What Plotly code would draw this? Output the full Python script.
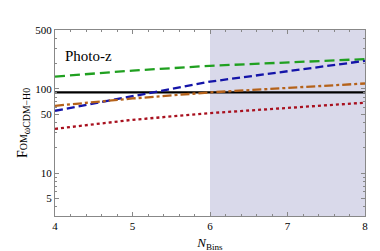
import plotly.graph_objects as go

n_bins = [4, 5, 6, 7, 8]
fom_green = [140, 165, 188, 208, 226]
fom_blue = [55, 82, 122, 162, 215]
fom_orange = [63, 77, 91, 103, 116]
fom_red = [33.6, 43, 51.6, 59, 68.6]
fom_black = [91, 91, 91, 91, 91]
shade_range = [6, 8]

y_ticks = [5, 10, 50, 100, 500]
y_minor = [4, 6, 7, 8, 9, 20, 30, 40, 60, 70, 80, 90, 200, 300, 400]
x_ticks = [4, 5, 6, 7, 8]
x_minor = [4 + i * 0.2 for i in range(21) if i % 5 != 0]

fig = go.Figure()

fig.add_shape(type="rect", xref="x", yref="paper", x0=shade_range[0], x1=shade_range[1],
              y0=0, y1=1, fillcolor="#d9d9ea", line_width=0, layer="below")

fig.add_trace(go.Scatter(x=n_bins, y=fom_black, mode="lines",
                         line=dict(color="black", width=2.3)))
fig.add_trace(go.Scatter(x=n_bins, y=fom_green, mode="lines",
                         line=dict(color="#20a020", width=2.3, dash="10px,5px")))
fig.add_trace(go.Scatter(x=n_bins, y=fom_blue, mode="lines",
                         line=dict(color="#1414a8", width=2.3, dash="8px,4px")))
fig.add_trace(go.Scatter(x=n_bins, y=fom_orange, mode="lines",
                         line=dict(color="#b5621a", width=2.3, dash="dashdot")))
fig.add_trace(go.Scatter(x=n_bins, y=fom_red, mode="lines",
                         line=dict(color="#a8101e", width=2.3, dash="dot")))

fig.add_annotation(text="Photo-z", xref="paper", yref="paper", x=0.025, y=0.86,
                   xanchor="left", yanchor="middle", showarrow=False,
                   font=dict(size=15, color="black", family="Liberation Serif"))

axis_common = dict(showgrid=False, zeroline=False, showline=True, linecolor="#888888",
                   linewidth=1, mirror="allticks", ticks="inside", ticklen=4,
                   tickcolor="#888888", tickfont=dict(size=11, color="black",
                                                      family="Liberation Serif"))

fig.update_xaxes(range=[4, 8], tickmode="array", tickvals=x_ticks,
                 ticktext=[str(v) for v in x_ticks],
                 minor=dict(ticks="inside", tickvals=x_minor, ticklen=2, tickcolor="#888888"),
                 title=dict(text="<i>N</i><sub>Bins</sub>", standoff=6,
                            font=dict(size=13, color="black", family="Liberation Serif")),
                 **axis_common)
fig.update_yaxes(type="log", range=[0.492, 2.699], tickmode="array", tickvals=y_ticks,
                 ticktext=[str(v) for v in y_ticks],
                 minor=dict(ticks="inside", tickvals=y_minor, ticklen=2, tickcolor="#888888"),
                 title=dict(text="F<span style='font-size:10px'>OM</span><sub>ωCDM−H0</sub>",
                            standoff=4,
                            font=dict(size=14, color="black", family="Liberation Serif")),
                 **axis_common)

fig.update_layout(width=380, height=251, margin=dict(l=47, r=23, t=22, b=39),
                  plot_bgcolor="white", paper_bgcolor="white", showlegend=False)

fig.write_html("out.html")
